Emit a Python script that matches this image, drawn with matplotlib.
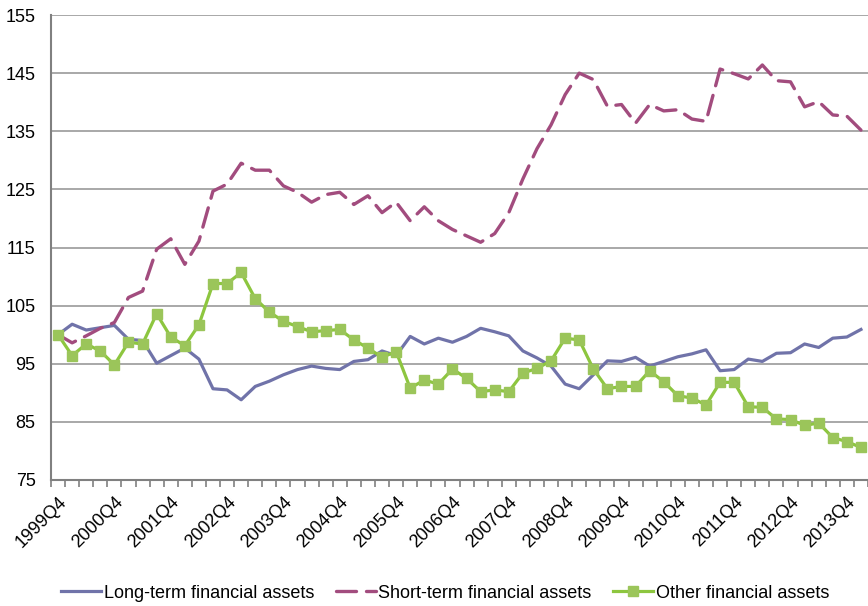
import numpy as np
import matplotlib
matplotlib.use("Agg")
import matplotlib.pyplot as plt

plt.rcParams["font.family"] = ["Liberation Sans", "DejaVu Sans"]

# quarterly index, 1999Q4 .. 2014Q1
years = list(range(1999, 2015))
quarters = [f"{y}Q{q}" for y in years for q in (1, 2, 3, 4)]
quarters = quarters[quarters.index("1999Q4"):quarters.index("2014Q1") + 1]

long_term = [100.0, 101.8, 100.8, 101.2, 101.6, 99.2, 99.0, 95.1, 96.4, 97.7,
             95.8, 90.7, 90.5, 88.8, 91.1, 92.0, 93.1, 94.0, 94.6, 94.2,
             94.0, 95.4, 95.7, 97.2, 96.4, 99.7, 98.4, 99.4, 98.7, 99.7,
             101.1, 100.5, 99.8, 97.2, 96.0, 94.6, 91.5, 90.7, 93.1, 95.5,
             95.4, 96.1, 94.6, 95.4, 96.2, 96.7, 97.4, 93.8, 94.0, 95.8,
             95.4, 96.8, 96.9, 98.4, 97.8, 99.4, 99.6, 100.9]
short_term = [100.0, 98.6, 99.8, 101.1, 102.1, 106.4, 107.5, 114.7, 116.5, 112.1,
              116.1, 124.7, 125.9, 129.5, 128.3, 128.3, 125.6, 124.5, 122.8, 124.1,
              124.5, 122.4, 123.9, 121.0, 122.8, 119.6, 122.0, 119.6, 118.1, 117.0,
              115.9, 117.4, 121.0, 126.8, 132.0, 136.1, 141.3, 145.0, 143.9, 139.3,
              139.6, 136.4, 139.6, 138.5, 138.7, 137.1, 136.7, 145.7, 144.9, 144.0,
              146.4, 143.7, 143.5, 139.2, 140.1, 137.8, 137.6, 135.2]
other = [100.0, 96.4, 98.4, 97.2, 94.8, 98.7, 98.4, 103.6, 99.6, 98.1,
         101.7, 108.8, 108.8, 110.7, 106.2, 103.9, 102.3, 101.4, 100.5, 100.7,
         100.9, 99.1, 97.7, 96.1, 97.1, 90.8, 92.2, 91.5, 94.1, 92.5,
         90.2, 90.5, 90.2, 93.4, 94.2, 95.5, 99.4, 99.1, 94.1, 90.7,
         91.1, 91.1, 93.8, 91.9, 89.5, 89.1, 87.9, 91.8, 91.8, 87.6,
         87.5, 85.5, 85.4, 84.4, 84.8, 82.3, 81.6, 80.6]
yticks = [75, 85, 95, 105, 115, 125, 135, 145, 155]

GRID = "#9a9a9a"
FS = 13
x = np.arange(len(quarters))

fig = plt.figure(figsize=(8.68, 6.06), dpi=100)
ax = fig.add_axes([51 / 868, 1 - 480 / 606, 817 / 868, 465 / 606])

ax.plot(x, long_term, color="#7073a9", lw=2.3, label="Long-term financial assets")
ax.plot(x, short_term, color="#a24c7e", lw=2.4, dashes=(6, 3), dash_capstyle="round",
        label="Short-term financial assets")
ax.plot(x, other, color="#8dc63f", lw=2.3, marker="s", ms=7, mfc="#9bc55a", mec="#9bc55a",
        label="Other financial assets")

ax.set_xlim(-0.5, len(quarters) - 0.5)
ax.set_ylim(75, 155)
ax.set_yticks(yticks)
ax.yaxis.grid(True, color=GRID, lw=1.2)
ax.set_axisbelow(True)
for s in ("top", "right"):
    ax.spines[s].set_visible(False)
for s in ("left", "bottom"):
    ax.spines[s].set_color("#808080"); ax.spines[s].set_linewidth(1.5)
ax.tick_params(axis="y", length=0, labelsize=FS, pad=11)

lab = x[::4]
ax.set_xticks(lab)
ax.set_xticklabels([quarters[i] for i in lab], rotation=45, ha="right", va="top",
                   rotation_mode="anchor", fontsize=FS)
ax.set_xticks(np.arange(-0.5, len(quarters)), minor=True)
ax.tick_params(axis="x", which="major", length=0, pad=10)
ax.tick_params(axis="x", which="minor", length=5, width=1.2, color="#808080")

fig.legend(loc="center", bbox_to_anchor=(0.513, 1 - 593 / 606), ncol=3, frameon=False,
           fontsize=FS, handlelength=2.2, handletextpad=0.15, columnspacing=1.2)

fig.savefig("out.png", dpi=100)
